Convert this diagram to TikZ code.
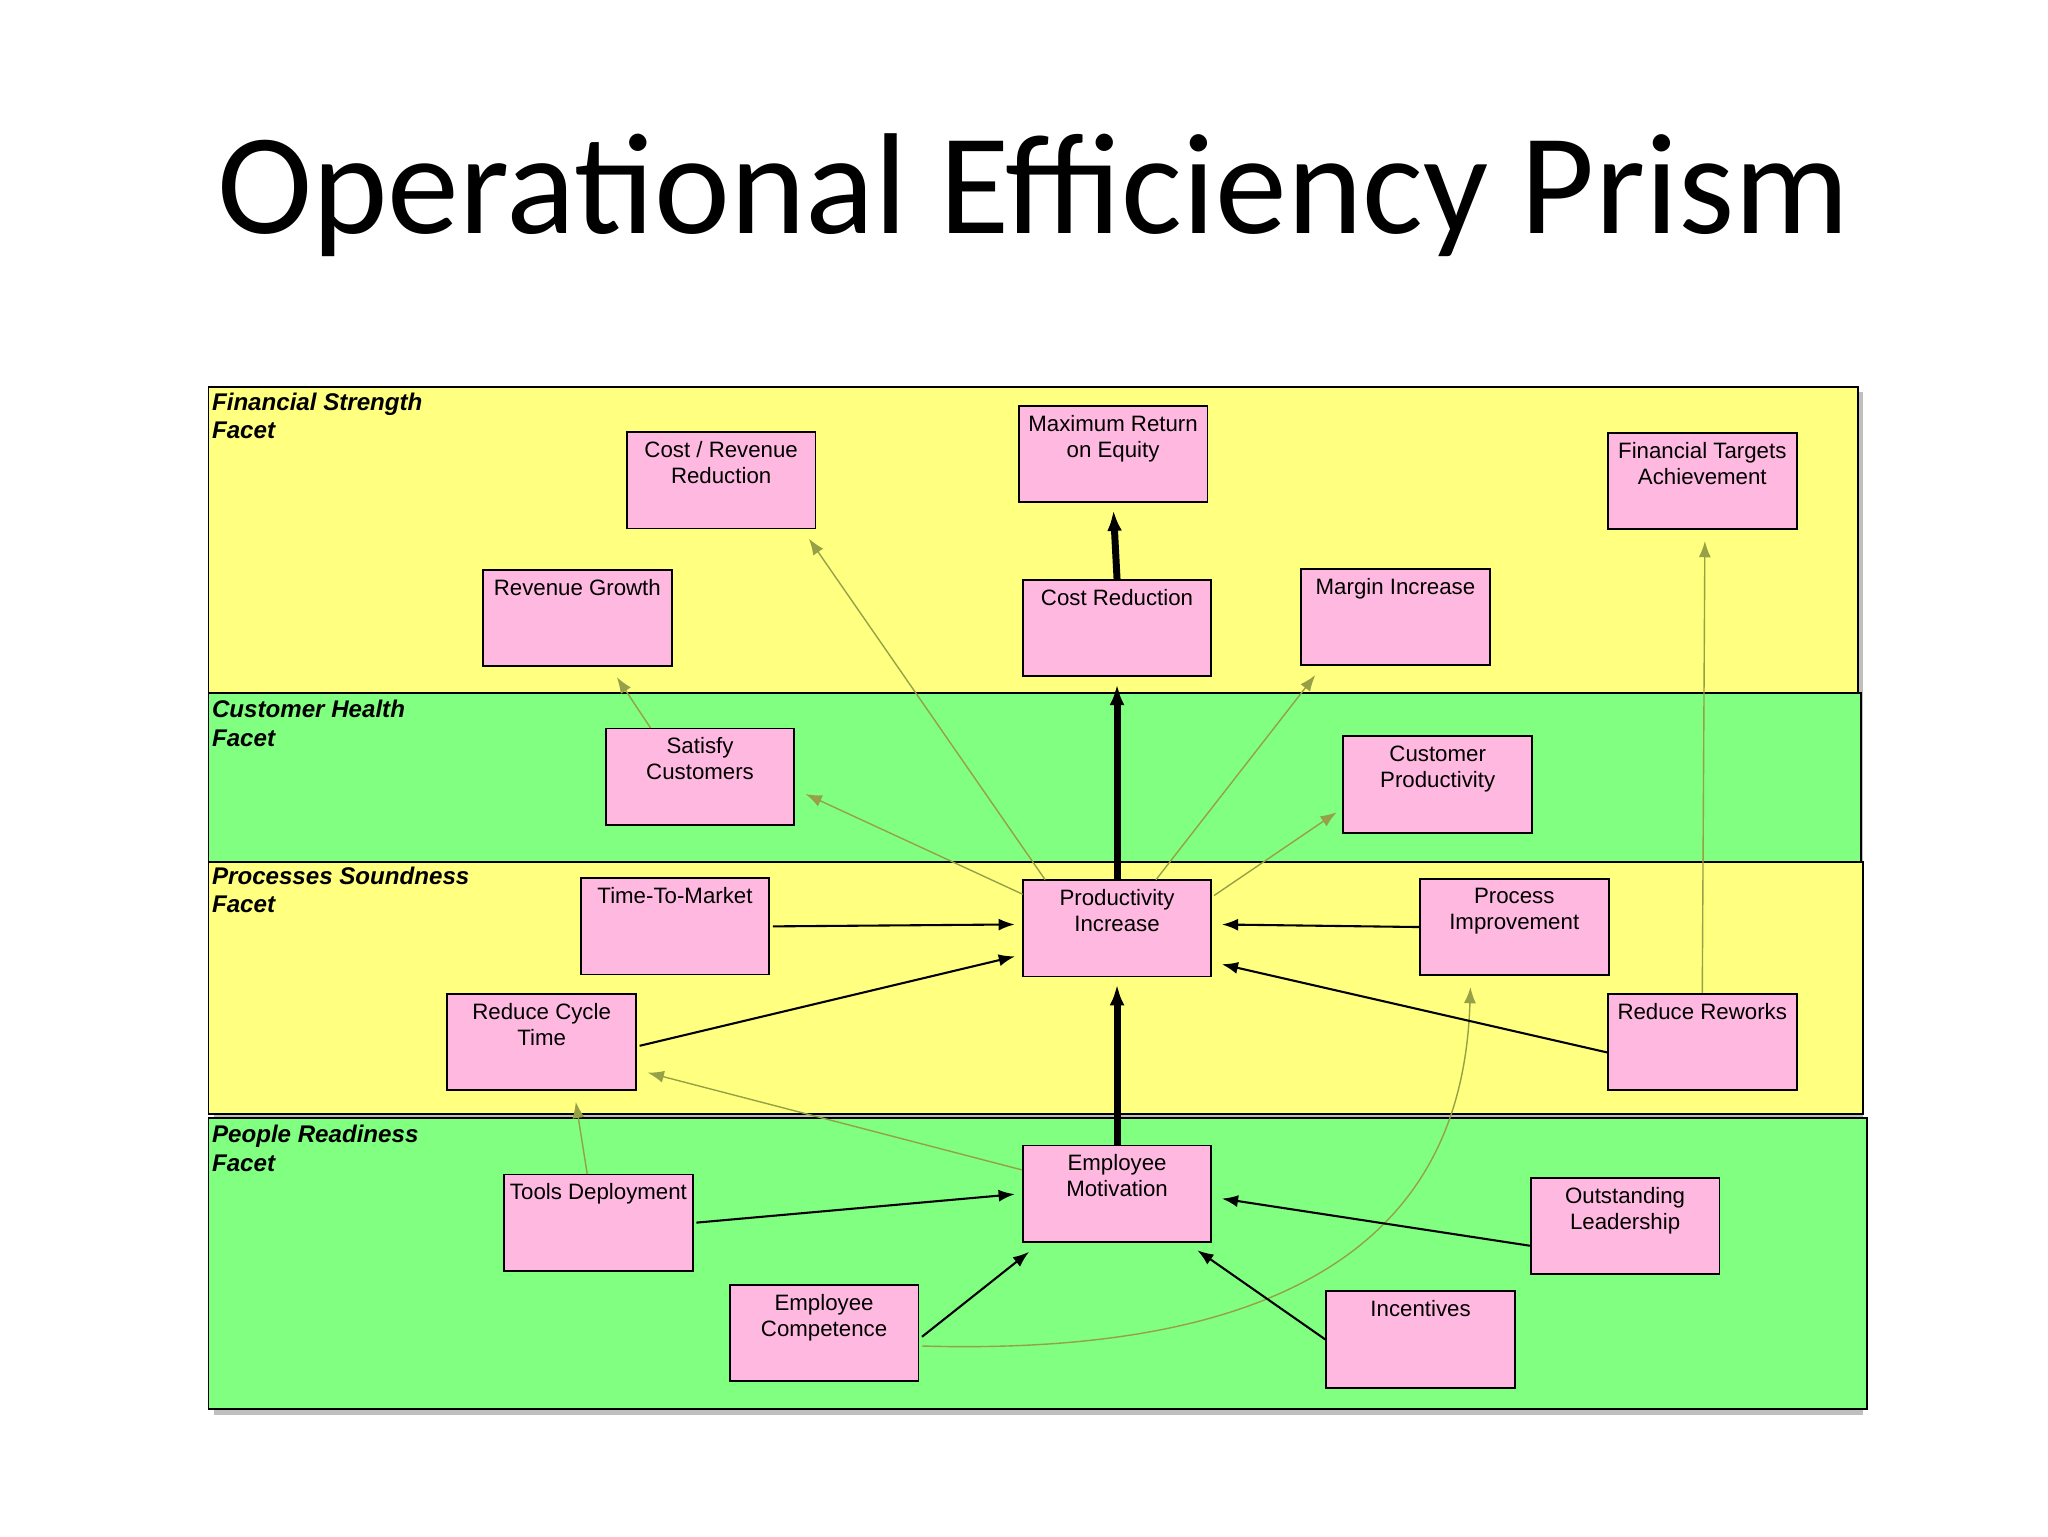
\documentclass[tikz,border=0pt]{standalone}
\usepackage{fontspec}
\setmainfont{Liberation Sans}
\newfontfamily\titlefont{Carlito}
\usetikzlibrary{shapes.misc,arrows.meta,calc}
\definecolor{bandy}{RGB}{255,255,128}
\definecolor{bandg}{RGB}{128,255,128}
\definecolor{boxp}{RGB}{255,185,225}
\definecolor{oliv}{RGB}{150,160,70}
\tikzset{
 band/.style={draw=black,line width=0.4pt},
 bshadow/.style={fill=black!25,draw=none},
 pbox/.style={chamfered rectangle,chamfered rectangle xsep=2pt,chamfered rectangle ysep=2pt,draw=black,fill=boxp,line width=0.4pt,minimum width=1.43cm,minimum height=0.73cm,inner sep=0pt},
 facet/.style={anchor=north west,align=left,font=\fontsize{5.2}{6.1}\selectfont\bfseries\itshape,inner sep=0pt},
 tip/.style={-{Latex[length=3.5pt,width=2.6pt]},shorten >=1.5pt},
 blk/.style={tip,draw=black,line width=0.45pt},
 olv/.style={tip,draw=oliv,line width=0.3pt},
 thk/.style={-{Latex[length=4.5pt,width=3.2pt]},draw=black,line width=1.5pt,shorten >=1.5pt},
}
\newcommand{\bx}[4]{\node[pbox,label={[anchor=north,align=center,font=\fontsize{4.8}{5.6}\selectfont,inner sep=1.5pt,yshift=-0.5pt]north:#4}] (#1) at (#2,#3) {};}
\begin{document}
\begin{tikzpicture}[x=0.1mm,y=-0.1mm]
\useasboundingbox (0,0) rectangle (1552,1164);
\node[font=\titlefont\fontsize{31}{36}\selectfont,inner sep=0pt] (title) at (783,148) {Operational Efficiency Prism};
% shadows
\fill[bshadow] (162,297) rectangle (1412,1072);
% bands
\draw[band,fill=bandg] (158,847) rectangle (1415,1068);
\draw[band,fill=bandy] (158,653) rectangle (1412,844);
\draw[band,fill=bandg] (158,525) rectangle (1410,653);
\draw[band,fill=bandy] (158,293) rectangle (1408,525);
\node[facet] (f1) at (160,297) {Financial Strength\\Facet};
\node[facet] (f2) at (160,530) {Customer Health\\Facet};
\node[facet] (f3) at (160,656) {Processes Soundness\\Facet};
\node[facet] (f4) at (160,852) {People Readiness\\Facet};
% boxes
\bx{costrev}{546.5}{364}{Cost / Revenue\\Reduction}
\bx{maxret}{843.5}{344}{Maximum Return\\on Equity}
\bx{fintar}{1290}{364.5}{Financial Targets\\Achievement}
\bx{revg}{437.5}{468.5}{Revenue Growth}
\bx{costred}{846.5}{476}{Cost Reduction}
\bx{margin}{1057.5}{467.5}{Margin Increase}
\bx{satisfy}{530.5}{588.5}{Satisfy\\Customers}
\bx{custprod}{1089.5}{594.5}{Customer\\Productivity}
\bx{ttm}{511.5}{702}{Time-To-Market}
\bx{prod}{846.5}{703.5}{Productivity\\Increase}
\bx{procimp}{1147.5}{702.5}{Process\\Improvement}
\bx{rct}{410.5}{789.5}{Reduce Cycle\\Time}
\bx{rrw}{1290}{789.5}{Reduce Reworks}
\bx{empmot}{846.5}{904.5}{Employee\\Motivation}
\bx{tools}{453.5}{926.5}{Tools Deployment}
\bx{outlead}{1231.5}{929}{Outstanding\\Leadership}
\bx{empcomp}{624.5}{1010}{Employee\\Competence}
\bx{incent}{1076.5}{1015}{Incentives}
% thick
\draw[thk] (costred.north) -- (maxret.south);
\draw[thk] (prod.north) -- (costred.south);
\draw[thk] (empmot.north) -- (prod.south);
% olive
\draw[olv] ($(prod.north west)+(17,0)$) -- ($(costrev.south east)+(-8,3)$);
\draw[olv] ($(prod.north east)+(-42,0)$) -- ($(margin.south west)+(14,3)$);
\draw[olv] ($(prod.north west)+(0,11)$) -- ($(satisfy.east)+(3,11)$);
\draw[olv] ($(prod.north east)+(2,12)$) -- ($(custprod.west)+(0,18)$);
\draw[olv] ($(satisfy.north west)+(34,0)$) -- ($(revg.south)+(27,3)$);
\draw[olv] (rrw.north) -- ($(fintar.south)+(2,3)$);
\draw[olv] ($(empmot.west)+(0,-18)$) -- ($(rct.east)+(3,22)$);
\draw[olv] ($(tools.north west)+(63,0)$) -- ($(rct.south)+(25,3)$);
\draw[olv] ($(empcomp.east)+(2,10)$) .. controls (1050,1030) and (1110,880) .. ($(procimp.south)+(-33,3)$);
% black thin
\draw[blk] ($(ttm.east)+(2,0)$) -- ($(prod.west)+(0,-3)$);
\draw[blk] (procimp.west) -- ($(prod.east)+(2,-3)$);
\draw[blk] ($(rct.east)+(2,3)$) -- ($(prod.west)+(0,20)$);
\draw[blk] ($(rrw.west)+(0,8)$) -- ($(prod.east)+(2,26)$);
\draw[blk] ($(tools.east)+(2,0)$) -- (empmot.west);
\draw[blk] ($(outlead.west)+(0,15)$) -- ($(empmot.east)+(2,3)$);
\draw[blk] ($(empcomp.east)+(2,3)$) -- ($(empmot.south west)+(9,4)$);
\draw[blk] ($(incent.west)+(0,0)$) -- ($(empmot.south east)+(-15,3)$);
\end{tikzpicture}
\end{document}
